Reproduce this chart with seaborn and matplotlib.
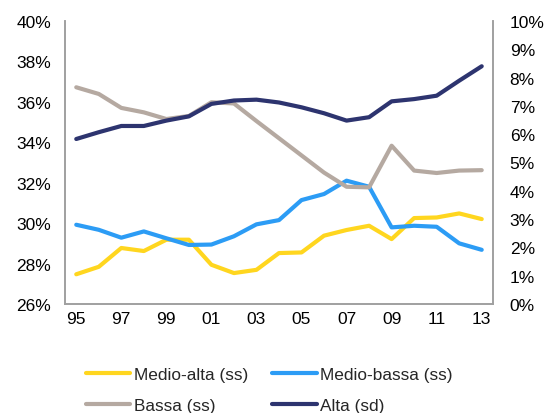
import numpy as np
import pandas as pd
import matplotlib
matplotlib.use("Agg")
import matplotlib.pyplot as plt
import matplotlib.ticker as mtick
import seaborn as sns

# anni 1995-2013
years = ["95", "96", "97", "98", "99", "00", "01", "02", "03", "04",
         "05", "06", "07", "08", "09", "10", "11", "12", "13"]

# quote (scala sinistra, %)
medio_alta = [27.47, 27.84, 28.77, 28.62, 29.18, 29.18, 27.94, 27.53, 27.69, 28.52,
              28.55, 29.38, 29.66, 29.87, 29.21, 30.25, 30.28, 30.48, 30.2]
medio_bassa = [29.92, 29.67, 29.28, 29.59, 29.25, 28.92, 28.94, 29.35, 29.94, 30.15,
               31.14, 31.44, 32.1, 31.8, 29.79, 29.87, 29.82, 29.0, 28.68]
bassa = [36.72, 36.39, 35.7, 35.48, 35.15, 35.3, 35.98, 35.92, 35.05, 34.2,
         33.35, 32.5, 31.8, 31.77, 33.83, 32.6, 32.48, 32.6, 32.62]
# quota (scala destra, %)
alta = [5.83, 6.07, 6.29, 6.29, 6.48, 6.63, 7.07, 7.19, 7.22, 7.12,
        6.95, 6.74, 6.48, 6.6, 7.16, 7.24, 7.36, 7.89, 8.4]

df = pd.DataFrame({"x": np.arange(len(years)),
                   "Medio-alta (ss)": medio_alta,
                   "Medio-bassa (ss)": medio_bassa,
                   "Bassa (ss)": bassa,
                   "Alta (sd)": alta})

sns.set_style("white")
plt.rcParams["font.family"] = ["Liberation Sans", "DejaVu Sans"]

fig = plt.figure(figsize=(5.48, 4.14), dpi=100)
ax = fig.add_axes([0.1186, 0.2633, 0.781, 0.6836])
ax2 = ax.twinx()

lw = 3.0
sns.lineplot(data=df, x="x", y="Medio-alta (ss)", ax=ax, color="#FFD61F", lw=lw,
             label="Medio-alta (ss)", legend=False)
sns.lineplot(data=df, x="x", y="Medio-bassa (ss)", ax=ax, color="#2C9CF5", lw=lw,
             label="Medio-bassa (ss)", legend=False)
sns.lineplot(data=df, x="x", y="Bassa (ss)", ax=ax, color="#B5A9A1", lw=lw,
             label="Bassa (ss)", legend=False)
sns.lineplot(data=df, x="x", y="Alta (sd)", ax=ax2, color="#2D346F", lw=lw,
             label="Alta (sd)", legend=False)

ax.set_xlim(-0.5, len(years) - 0.5)
ax.set_ylim(26, 40)
ax2.set_ylim(0, 10)
ax.set_yticks(np.arange(26, 41, 2))
ax2.set_yticks(np.arange(0, 11, 1))
ax.yaxis.set_major_formatter(mtick.FuncFormatter(lambda v, p: f"{v:.0f}%"))
ax2.yaxis.set_major_formatter(mtick.FuncFormatter(lambda v, p: f"{v:.0f}%"))
ax.set_xticks(np.arange(0, len(years), 2))
ax.set_xticklabels(years[::2])
ax.set_xlabel("")
ax.set_ylabel("")
ax2.set_ylabel("")

for a in (ax, ax2):
    a.tick_params(length=0, labelsize=12.5, colors="black")
    for s in a.spines.values():
        s.set_color("#A0A0A0")
        s.set_linewidth(1.2)
    a.spines["top"].set_visible(False)
    a.grid(False)
ax.tick_params(axis="y", pad=10)
ax2.tick_params(axis="y", pad=12)
ax.tick_params(axis="x", pad=5)

h1, l1 = ax.get_legend_handles_labels()
h2, l2 = ax2.get_legend_handles_labels()
handles = h1 + h2
labels = l1 + l2
# riempimento per colonne: riga 1 = Medio-alta, Medio-bassa; riga 2 = Bassa, Alta
order = [0, 2, 1, 3]
fig.legend([handles[i] for i in order], [labels[i] for i in order], ncol=2,
           loc="upper left", bbox_to_anchor=(0.157, 0.111), frameon=False,
           fontsize=12.4, handlelength=2.56, handletextpad=0.23,
           columnspacing=1.4, labelspacing=0.93, borderaxespad=0, borderpad=0)

fig.savefig("out.png", dpi=100)
